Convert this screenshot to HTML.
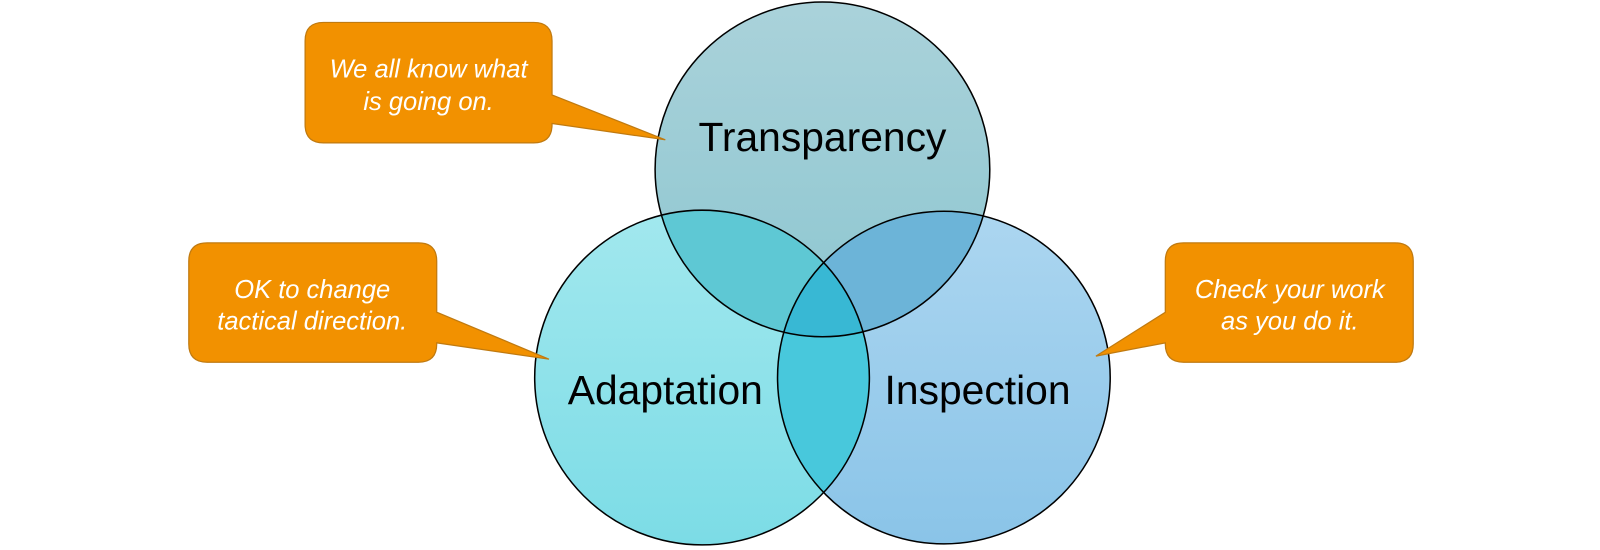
<!DOCTYPE html>
<html><head><meta charset="utf-8"><style>
html,body{margin:0;padding:0;background:#fff;width:1600px;height:550px;overflow:hidden}
</style></head><body>
<svg width="1600" height="550" viewBox="0 0 1600 550" xmlns="http://www.w3.org/2000/svg">
<defs>
<linearGradient id="gT" x1="0" y1="0" x2="0" y2="1"><stop offset="0" stop-color="#aad2da"/><stop offset="1" stop-color="#8cc6d0"/></linearGradient>
<linearGradient id="gA" x1="0" y1="0" x2="0" y2="1"><stop offset="0" stop-color="#a2e8ee"/><stop offset="1" stop-color="#7cdce6"/></linearGradient>
<linearGradient id="gI" x1="0" y1="0" x2="0" y2="1"><stop offset="0" stop-color="#acd6f0"/><stop offset="1" stop-color="#8ac4e8"/></linearGradient>
<clipPath id="cT"><circle cx="806" cy="166" r="164"/></clipPath>
<clipPath id="cA"><circle cx="688" cy="370" r="164"/></clipPath>
<clipPath id="cI"><circle cx="925" cy="370" r="163"/></clipPath>
</defs>
<g transform="scale(1.0204)">
<circle cx="806" cy="166" r="164" fill="url(#gT)"/>
<circle cx="688" cy="370" r="164" fill="url(#gA)"/>
<circle cx="925" cy="370" r="163" fill="url(#gI)"/>
<g clip-path="url(#cT)"><circle cx="688" cy="370" r="164" fill="#5ec8d4"/><circle cx="925" cy="370" r="163" fill="#6cb4d8"/></g>
<g clip-path="url(#cA)"><circle cx="925" cy="370" r="163" fill="#48c8dc"/></g>
<g clip-path="url(#cA)"><g clip-path="url(#cI)"><circle cx="806" cy="166" r="164" fill="#38b8d4"/></g></g>
<g fill="none" stroke="#000" stroke-width="1.5">
<circle cx="806" cy="166" r="164"/><circle cx="688" cy="370" r="164"/><circle cx="925" cy="370" r="163"/>
</g>
<g font-family="Liberation Sans, sans-serif" font-size="40" fill="#000" text-anchor="middle">
<text x="806" y="148">Transparency</text>
<text x="652" y="396">Adaptation</text>
<text x="958" y="396">Inspection</text>
</g>
<g fill="#f29100" stroke="#c07a10" stroke-width="1.2">
<path d="M317 22 H523 Q541 22 541 40 V93 L652 137 L541 121 V122 Q541 140 523 140 H317 Q299 140 299 122 V40 Q299 22 317 22 Z"/>
<path d="M203 238 H410 Q428 238 428 256 V306 L538 352 L428 336 V337 Q428 355 410 355 H203 Q185 355 185 337 V256 Q185 238 203 238 Z"/>
<path d="M1160 238 H1367 Q1385 238 1385 256 V337 Q1385 355 1367 355 H1160 Q1142 355 1142 337 V336 L1074 349 L1142 306 V256 Q1142 238 1160 238 Z"/>
</g>
<g font-family="Liberation Sans, sans-serif" font-style="italic" font-size="25" fill="#fff" text-anchor="middle">
<text x="420" y="76">We all know what</text><text x="420" y="108">is going on.</text>
<text x="306" y="292">OK to change</text><text x="306" y="323">tactical direction.</text>
<text x="1264" y="292">Check your work</text><text x="1264" y="323">as you do it.</text>
</g>
</g>
</svg>
</body></html>
